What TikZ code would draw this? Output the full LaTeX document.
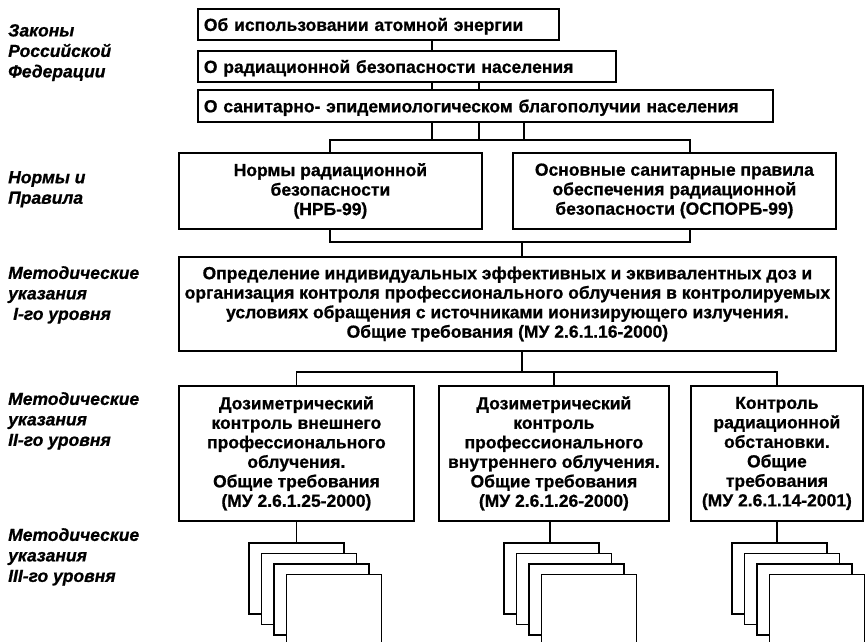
\documentclass[tikz,border=0pt]{standalone}
\usepackage{fontspec}
\setmainfont{Liberation Sans}[BoldFeatures={FakeBold=0.8},BoldItalicFeatures={FakeBold=0.8}]
\begin{document}
\begin{tikzpicture}[x=1pt,y=-1pt,
  box/.style={draw, line width=1.8pt, inner sep=0pt, font=\bfseries\fontsize{17.5}{19.5}\selectfont, align=center, anchor=north west},
  lawbox/.style={box, align=left, inner xsep=6pt, text depth=0pt},
  lbl/.style={anchor=north west, inner sep=0pt, font=\bfseries\itshape\fontsize{17.5}{20.5}\selectfont, align=left},
  conn/.style={line width=1.8pt},
  sheet/.style={draw, line width=1.8pt, fill=white, minimum width=95pt, minimum height=71pt, anchor=north west, inner sep=0pt}]
\useasboundingbox (0,0) rectangle (866,641);
\clip (0,0) rectangle (866,641);

% left labels
\node[lbl] (l1) at (8,24) {Законы\\Российской\\Федерации};
\node[lbl] (l2) at (8,171) {Нормы и\\Правила};
\node[lbl] (l3) at (8,266) {Методические\\указания\\\hspace{5pt}I-го уровня};
\node[lbl] (l4) at (8,392) {Методические\\указания\\II-го уровня};
\node[lbl] (l5) at (8,528) {Методические\\указания\\III-го уровня};

% laws
\node[lawbox, minimum width=361pt, minimum height=31pt, text width=349pt] (b1) at (197,8) {Об использовании атомной энергии};
\node[lawbox, minimum width=418pt, minimum height=31pt, text width=406pt] (b2) at (197,50) {О радиационной безопасности населения};
\node[lawbox, minimum width=575pt, minimum height=32pt, text width=563pt] (b3) at (197,89) {О санитарно- эпидемиологическом благополучии населения};

% norms
\node[box, minimum width=303pt, minimum height=76pt] (nrb) at (178,152) {Нормы радиационной\\безопасности\\(НРБ-99)};
\node[box, minimum width=323pt, minimum height=76pt] (osp) at (512,152) {Основные санитарные правила\\обеспечения радиационной\\безопасности (ОСПОРБ-99)};

% level I
\node[box, minimum width=657pt, minimum height=94pt] (mu1) at (178,256) {Определение индивидуальных эффективных и эквивалентных доз и\\организация контроля профессионального облучения в контролируемых\\условиях обращения с источниками ионизирующего излучения.\\Общие требования (МУ 2.6.1.16-2000)};

% level II
\node[box, minimum width=235pt, minimum height=135pt] (mu21) at (178,385) {Дозиметрический\\контроль внешнего\\профессионального\\облучения.\\Общие требования\\(МУ 2.6.1.25-2000)};
\node[box, minimum width=230pt, minimum height=135pt] (mu22) at (438,385) {Дозиметрический\\контроль\\профессионального\\внутреннего облучения.\\Общие требования\\(МУ 2.6.1.26-2000)};
\node[box, minimum width=172pt, minimum height=135pt] (mu23) at (690,385) {Контроль\\радиационной\\обстановки.\\Общие\\требования\\(МУ 2.6.1.14-2001)};

% connectors among laws
\draw[conn] (432,0 |- b1.south) -- (432,0 |- b2.north);
\draw[conn] (432,0 |- b2.south) -- (432,0 |- b3.north);
\draw[conn] (479,0 |- b2.south) -- (479,0 |- b3.north);
\coordinate (busA) at (0,140);
\foreach \xx in {432,479,524} \draw[conn] (\xx,0 |- b3.south) -- (\xx,0 |- busA);
\draw[conn] (330,0 |- nrb.north) -- (330,0 |- busA) -- (690,0 |- busA) -- (690,0 |- osp.north);

\coordinate (busB) at (0,242);
\draw[conn] (330,0 |- nrb.south) -- (330,0 |- busB) -- (690,0 |- busB) -- (690,0 |- osp.south);
\draw[conn] (522,0 |- busB) -- (522,0 |- mu1.north);

\coordinate (busC) at (0,372);
\draw[conn] (522,0 |- mu1.south) -- (522,0 |- busC);
\draw[conn] (mu21.north) -- (mu21.north |- busC) -- (mu23.north |- busC) -- (mu23.north);
\draw[conn] (mu22.north |- busC) -- (mu22.north);

% level III stacks
\foreach \nm/\cx in {s1/295, s2/550, s3/778} {
  \foreach \k in {0,1,2,3} {
    \node[sheet] (\nm\k) at ({\cx-47+12.5*\k},{542+10.5*\k}) {};
  }
}
\draw[conn] (s10.north -| mu21.south) -- (mu21.south);
\draw[conn] (550,0 |- s20.north) -- (550,0 |- mu22.south);
\draw[conn] (s30.north -| mu23.south) -- (mu23.south);
\end{tikzpicture}
\end{document}
